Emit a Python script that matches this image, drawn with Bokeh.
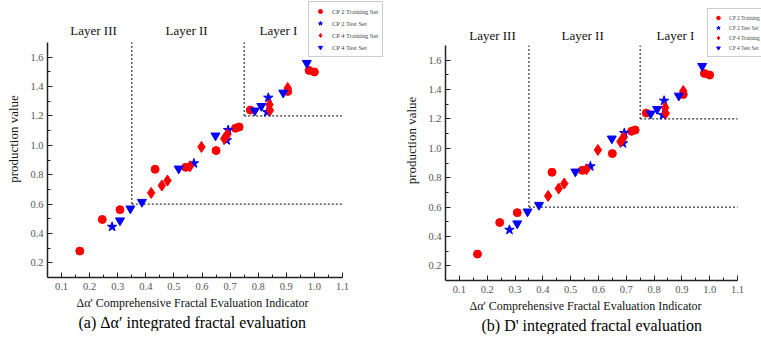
from bokeh.plotting import figure
from bokeh.models import Range1d, FixedTicker, Legend, LegendItem, Label, Title, PrintfTickFormatter
from bokeh.layouts import row
from bokeh.embed import file_html
from bokeh.resources import INLINE

# ---- data ----
cp2_train_x = [0.165, 0.245, 0.308, 0.433, 0.542, 0.650, 0.719, 0.732, 0.772, 0.905, 0.981, 1.000]
cp2_train_y = [0.280, 0.495, 0.562, 0.837, 0.850, 0.964, 1.116, 1.125, 1.240, 1.367, 1.510, 1.499]

cp2_test_x = [0.280, 0.571, 0.693, 0.688, 0.836, 0.832]
cp2_test_y = [0.445, 0.877, 1.104, 1.034, 1.324, 1.226]

cp4_train_x = [0.419, 0.457, 0.477, 0.557, 0.598, 0.679, 0.686, 0.690, 0.840, 0.842, 0.905]
cp4_train_y = [0.676, 0.726, 0.760, 0.857, 0.989, 1.045, 1.061, 1.075, 1.277, 1.238, 1.390]

cp4_test_x = [0.308, 0.345, 0.386, 0.517, 0.648, 0.788, 0.811, 0.889, 0.973]
cp4_test_y = [0.488, 0.569, 0.614, 0.841, 1.066, 1.236, 1.267, 1.358, 1.560]

layer_bounds_x = [0.35, 0.75]
layer_bounds_y = [0.6, 1.2]
layer_names = ["Layer III", "Layer II", "Layer I"]

x_ticks = [0.1, 0.2, 0.3, 0.4, 0.5, 0.6, 0.7, 0.8, 0.9, 1.0, 1.1]
y_ticks = [0.2, 0.4, 0.6, 0.8, 1.0, 1.2, 1.4, 1.6]
x_minor = [0.15, 0.25, 0.35, 0.45, 0.55, 0.65, 0.75, 0.85, 0.95, 1.05]
y_minor = [0.3, 0.5, 0.7, 0.9, 1.1, 1.3, 1.5]

legend_a = ["CP 2 Training Set", "CP 2 Test Set", "CP 4 Training Set", "CP 4 Test Set"]
legend_b = ["CP 2 Training", "CP 2 Test Set", "CP 4 Training", "CP 4 Test Set"]

x_label = "\u0394\u03b1' Comprehensive Fractal Evaluation Indicator"
y_label = "production value"
caption_a = "(a) \u0394\u03b1\u2032 integrated fractal evaluation"
caption_b = "(b) D' integrated fractal evaluation"

SERIF = "Liberation Serif"
X_START = 0.05
X_END = 1.1
Y_BOT = 0.1
Y_TOP = 1.7


def make_panel(caption, labels, legend_loc, legend_font, legend_dims,
               layer_x, layer_gap, min_left, frame_w, axis_w, frame_h, top_px,
               xlabel_off, caption_off):
    px_per_x = axis_w / (X_END - X_START)
    px_per_y = (frame_h - top_px) / (Y_TOP - Y_BOT)
    x_view_end = X_START + frame_w / px_per_x
    y_view_top = Y_TOP + top_px / px_per_y
    p = figure(output_backend="svg", toolbar_location=None,
               frame_width=frame_w, frame_height=frame_h,
               min_border_left=min_left, min_border_right=0,
               min_border_top=0, min_border_bottom=0,
               x_range=Range1d(X_START, x_view_end), y_range=Range1d(Y_BOT, y_view_top),
               background_fill_color="white", border_fill_color="white",
               outline_line_color=None)
    p.grid.visible = False

    # dashed layer boundaries
    p.segment(x0=layer_bounds_x, y0=layer_bounds_y,
              x1=layer_bounds_x, y1=[Y_TOP, Y_TOP],
              line_color="#333333", line_width=1.2, line_dash="2 2")
    p.segment(x0=layer_bounds_x, y0=layer_bounds_y,
              x1=[X_END, X_END], y1=layer_bounds_y,
              line_color="#333333", line_width=1.2, line_dash="2 2")

    r1 = p.scatter(cp2_train_x, cp2_train_y, marker="circle", size=8,
                   fill_color="#ff0000", line_color="#ff0000")
    r2 = p.scatter(cp2_test_x, cp2_test_y, marker="star", size=10,
                   fill_color="#0000ff", line_color="#0000ff")
    r3 = p.scatter(cp4_train_x, cp4_train_y, marker="diamond", size=11,
                   fill_color="#ff0000", line_color="#ff0000")
    r4 = p.scatter(cp4_test_x, cp4_test_y, marker="inverted_triangle", size=9,
                   fill_color="#0000ff", line_color="#0000ff")

    # axes
    for ax in (p.xaxis[0], p.yaxis[0]):
        ax.axis_line_color = "#222222"
        ax.axis_line_width = 1.5
        ax.major_tick_in = 5
        ax.major_tick_out = 0
        ax.minor_tick_in = 3
        ax.minor_tick_out = 0
        ax.major_tick_line_color = "#222222"
        ax.minor_tick_line_color = "#222222"
        ax.major_label_text_font = SERIF
        ax.major_label_text_font_size = "10.5px"
        ax.major_label_text_color = "#555555"
        ax.axis_label_text_font = SERIF
        ax.axis_label_text_font_style = "normal"
        ax.axis_label_text_color = "#111111"
        ax.formatter = PrintfTickFormatter(format="%.1f")
    p.xaxis[0].ticker = FixedTicker(ticks=x_ticks, minor_ticks=x_minor)
    p.yaxis[0].ticker = FixedTicker(ticks=y_ticks, minor_ticks=y_minor)
    p.xaxis[0].bounds = (X_START, X_END)
    p.yaxis[0].bounds = (Y_BOT, Y_TOP)
    p.xaxis[0].major_label_standoff = 5
    p.yaxis[0].axis_label = y_label
    p.yaxis[0].axis_label_text_font_size = "13px"
    p.yaxis[0].axis_label_standoff = 6
    p.yaxis[0].major_label_standoff = 4

    # x axis label and caption below (left-aligned so they sit under the axis)
    p.add_layout(Title(text=x_label, align="left", offset=xlabel_off, text_font=SERIF,
                       text_font_size="12px", text_font_style="normal",
                       text_color="#111111", standoff=2), "below")
    p.add_layout(Title(text=caption, align="left", offset=caption_off, text_font=SERIF,
                       text_font_size="16px", text_font_style="normal",
                       text_color="#000000", standoff=2), "below")

    # layer labels above the axis area
    for name, lx in zip(layer_names, layer_x):
        p.add_layout(Label(x=lx, y=Y_TOP + layer_gap / px_per_y, text=name,
                           text_align="center", text_baseline="middle",
                           text_font=SERIF, text_font_size="13px",
                           text_color="#111111"))

    gw, gh, sp, stand = legend_dims
    items = [LegendItem(label=lb, renderers=[r]) for lb, r in zip(labels, [r1, r2, r3, r4])]
    leg = Legend(items=items, location=legend_loc, orientation="vertical",
                 label_text_font=SERIF, label_text_font_size=legend_font,
                 glyph_height=gh, glyph_width=gw, label_height=gh,
                 label_standoff=stand, spacing=sp, padding=4, margin=0,
                 border_line_color="#999999", border_line_width=1,
                 background_fill_color="white", background_fill_alpha=1)
    p.add_layout(leg)
    return p


p1 = make_panel(caption_a, legend_a,
                (261, 220), "6.5px", (14, 10, 2, 5),
                [0.214, 0.545, 0.872], 12, 47, 354, 295, 277, 42, 29, 31)
p2 = make_panel(caption_b, legend_b,
                (262, 223), "5.5px", (12, 9, 1, 5),
                [0.219, 0.543, 0.877], 10, 40, 320, 292, 280, 45, 24, 36)

layout = row(p1, p2, spacing=0)
open("out.html", "w").write(file_html(layout, INLINE))
